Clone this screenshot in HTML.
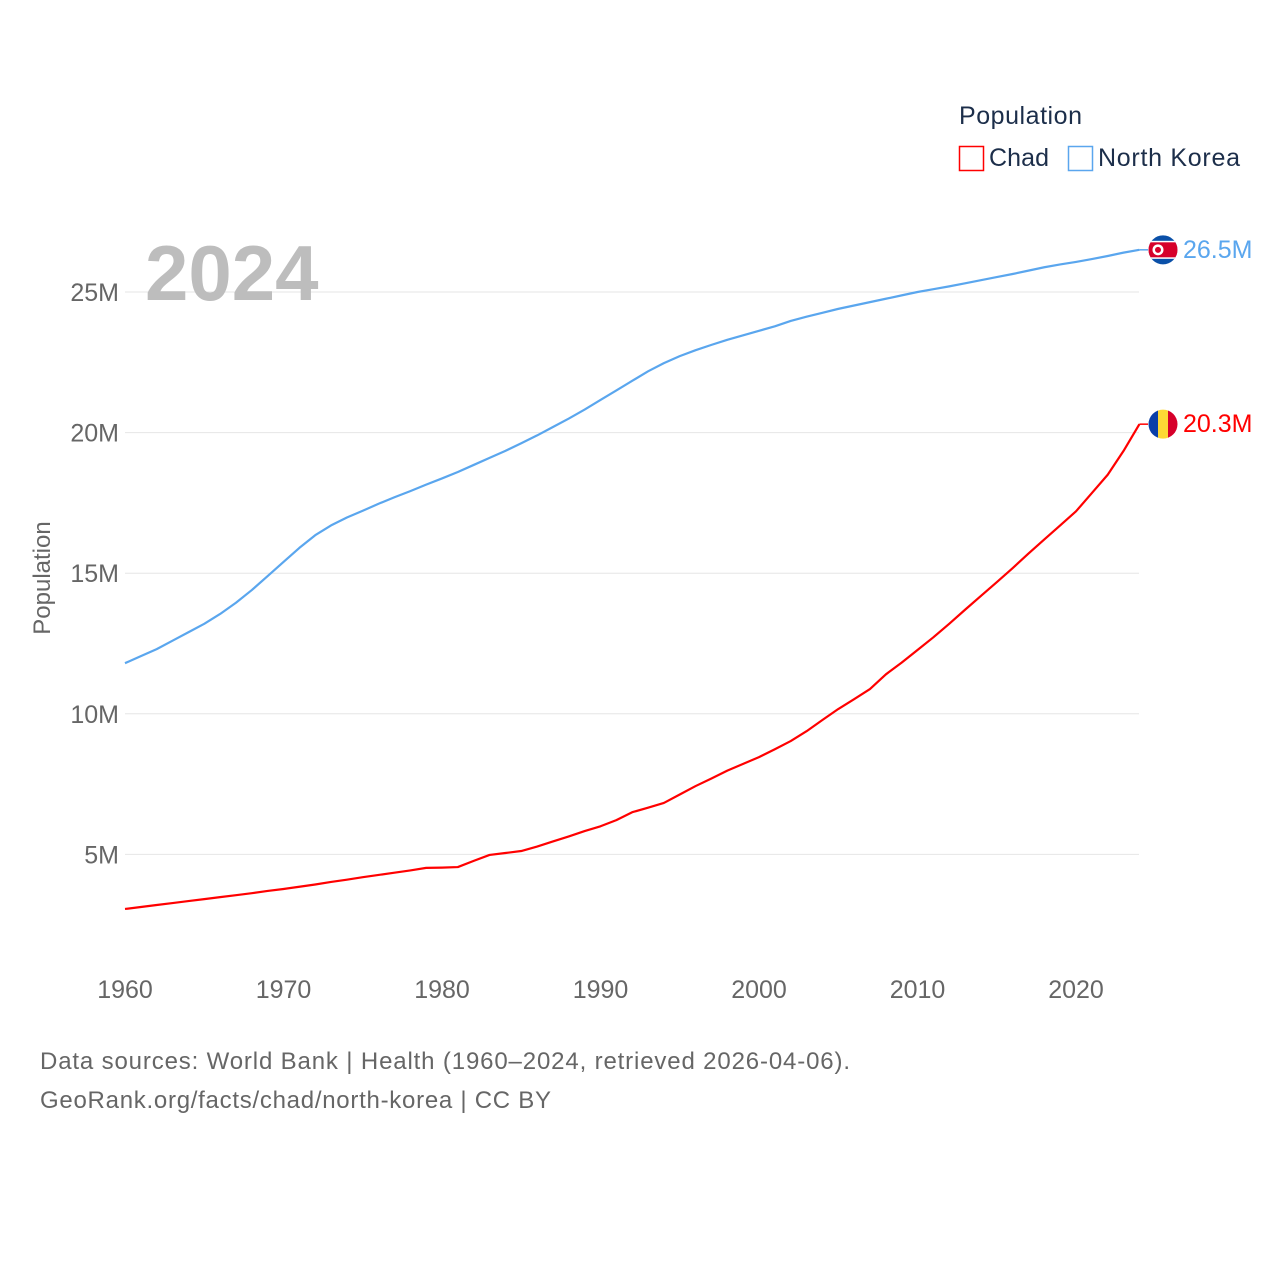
<!DOCTYPE html>
<html><head><meta charset="utf-8"><style>
body{margin:0;background:#fff;}
svg{display:block;font-family:"Liberation Sans",sans-serif;}
</style></head><body>
<svg id="chart" width="1280" height="1280" viewBox="0 0 1280 1280">
<g id="grid"></g>
<g id="yticks"></g>
<g id="xticks"></g>
<text x="145" y="300" font-size="78" font-weight="bold" fill="#bdbdbd">2024</text>
<text transform="translate(50,578) rotate(-90)" text-anchor="middle" font-size="24" fill="#666">Population</text>
<g id="lines"></g>
<g>
<text x="959" y="124" font-size="25" fill="#1c2e4a" textLength="123">Population</text>
<g><rect x="959.5" y="146.5" width="24" height="24" fill="none" stroke="#ff0000" stroke-width="1.5"/><text x="989" y="166" font-size="25" fill="#1c2e4a" textLength="60">Chad</text></g>
<g><rect x="1068.5" y="146.5" width="24" height="24" fill="none" stroke="#5aa6ee" stroke-width="1.5"/><text x="1098" y="166" font-size="25" fill="#1c2e4a" textLength="142">North Korea</text></g>
</g>
<g id="ends"></g>
<text x="40" y="1069" font-size="24" fill="#666" textLength="810">Data sources: World Bank | Health (1960–2024, retrieved 2026-04-06).</text>
<text x="40" y="1108" font-size="24" fill="#666" textLength="511">GeoRank.org/facts/chad/north-korea | CC BY</text>
</svg>
<script>
const years=[];for(let y=1960;y<=2024;y++)years.push(y);
const northKorea=[11.8,12.05,12.3,12.6,12.9,13.2,13.55,13.95,14.4,14.9,
15.4,15.9,16.35,16.7,16.98,17.22,17.47,17.7,17.92,18.15,
18.37,18.6,18.85,19.1,19.35,19.62,19.9,20.2,20.5,20.82,
21.16,21.5,21.84,22.18,22.47,22.72,22.93,23.12,23.3,23.46,
23.62,23.78,23.97,24.12,24.26,24.4,24.52,24.64,24.76,24.88,
25.0,25.1,25.2,25.31,25.42,25.53,25.64,25.76,25.88,25.98,
26.07,26.17,26.28,26.4,26.5];
const chad=[3.06,3.13,3.2,3.27,3.34,3.41,3.48,3.55,3.62,3.7,
3.77,3.85,3.93,4.02,4.1,4.19,4.27,4.35,4.43,4.52,
4.53,4.55,4.77,4.98,5.05,5.12,5.28,5.46,5.64,5.83,
6.0,6.22,6.5,6.66,6.83,7.13,7.43,7.7,7.98,8.22,
8.46,8.74,9.03,9.38,9.78,10.17,10.52,10.88,11.4,11.82,
12.27,12.72,13.2,13.7,14.19,14.68,15.18,15.7,16.2,16.7,
17.2,17.85,18.5,19.35,20.3];
const yTicks=[5,10,15,20,25];
const xTicks=[1960,1970,1980,1990,2000,2010,2020];
const NS='http://www.w3.org/2000/svg';
const X=y=>125+(y-1960)*15.85;
const Y=v=>995-v*28.12;
function mk(t,a,p){const e=document.createElementNS(NS,t);for(const k in a)e.setAttribute(k,a[k]);p.appendChild(e);return e;}
const grid=document.getElementById('grid'),yt=document.getElementById('yticks'),xt=document.getElementById('xticks');
yTicks.forEach(v=>{
 const l=mk('line',{x1:125,x2:1139,y1:Y(v),y2:Y(v),stroke:'#e6e6e6','stroke-width':1},grid);
 
 
 const t=mk('text',{x:119,y:Y(v)+9,'text-anchor':'end','font-size':25,fill:'#666'},yt);
 t.textContent=v+'M';
 
 
});
xTicks.forEach(v=>{
 const t=mk('text',{x:X(v),y:998,'text-anchor':'middle','font-size':25,fill:'#666'},xt);
 t.textContent=v;
 
 
});
const lines=document.getElementById('lines'),ends=document.getElementById('ends');
[[northKorea,'#5aa6ee','north-korea','26.5M'],[chad,'#ff0000','chad','20.3M']].forEach(([d,c,n,lab])=>{
 const pts=d.map((v,i)=>X(years[i])+','+Y(v)).join(' ');
 const p=mk('polyline',{points:pts,fill:'none',stroke:c,'stroke-width':2.2,'stroke-linejoin':'round'},lines);
 
 
 const lx=X(2024),ly=Y(d[d.length-1]);
 const conn=mk('line',{x1:lx,y1:ly,x2:1148,y2:ly,stroke:c,'stroke-width':1.5},ends);
 
 
 const g=mk('g',{},ends);
 
 
 const cx=1163,cy=ly;
 const clipId='clip-'+n;
 const cp=mk('clipPath',{id:clipId},g);mk('circle',{cx:cx,cy:cy,r:14.5},cp);
 const f=mk('g',{'clip-path':'url(#'+clipId+')'},g);
 if(n==='chad'){
  mk('rect',{x:cx-15,y:cy-15,width:10,height:30,fill:'#0a3fa8'},f);
  mk('rect',{x:cx-5,y:cy-15,width:10,height:30,fill:'#fdd835'},f);
  mk('rect',{x:cx+5,y:cy-15,width:10,height:30,fill:'#d6002a'},f);
 } else {
  mk('rect',{x:cx-15,y:cy-15,width:30,height:30,fill:'#0a50a8'},f);
  mk('rect',{x:cx-15,y:cy-9,width:30,height:18,fill:'#fff'},f);
  mk('rect',{x:cx-15,y:cy-7.5,width:30,height:15,fill:'#d6002a'},f);
  mk('circle',{cx:cx-5,cy:cy,r:5.5,fill:'#fff'},f);
  mk('circle',{cx:cx-5,cy:cy,r:3,fill:'#d6002a'},f);
 }
 const t=mk('text',{x:1183,y:ly+8,'font-size':25,fill:c},ends);
 t.textContent=lab;
 
 
});
</script>
</body></html>
